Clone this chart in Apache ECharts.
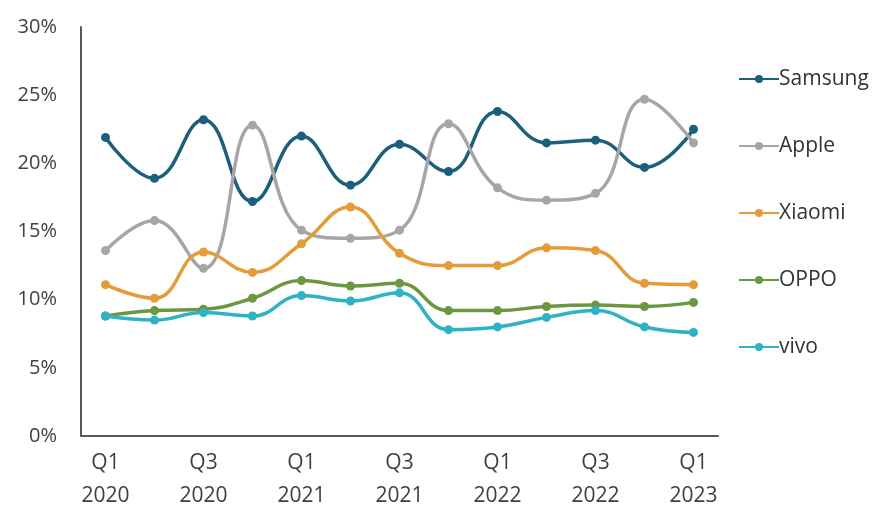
<!DOCTYPE html>
<html>
<head>
<meta charset="utf-8">
<script src="https://cdn.jsdelivr.net/npm/echarts@6/dist/echarts.min.js"></script>
<style>html,body{margin:0;padding:0;background:#fff;}#c{width:873px;height:513px;}</style>
</head>
<body>
<div id="c"></div>
<script>
const categories = ['Q1\n2020','Q2\n2020','Q3\n2020','Q4\n2020','Q1\n2021','Q2\n2021','Q3\n2021','Q4\n2021','Q1\n2022','Q2\n2022','Q3\n2022','Q4\n2022','Q1\n2023'];
const samsung = [21.9, 18.9, 23.2, 17.2, 22.0, 18.4, 21.4, 19.4, 23.8, 21.5, 21.7, 19.7, 22.5];
const apple   = [13.6, 15.8, 12.3, 22.8, 15.1, 14.5, 15.1, 22.9, 18.2, 17.3, 17.8, 24.7, 21.5];
const xiaomi  = [11.1, 10.1, 13.5, 12.0, 14.1, 16.8, 13.4, 12.5, 12.5, 13.8, 13.6, 11.2, 11.1];
const oppo    = [8.8, 9.2, 9.3, 10.1, 11.4, 11.0, 11.2, 9.2, 9.2, 9.5, 9.6, 9.5, 9.8];
const vivo    = [8.8, 8.5, 9.05, 8.8, 10.3, 9.9, 10.5, 7.8, 8.0, 8.7, 9.2, 8.0, 7.6];
const yTicks = [0, 5, 10, 15, 20, 25, 30];

const names = ['Samsung','Apple','Xiaomi','OPPO','vivo'];
const datas = [samsung, apple, xiaomi, oppo, vivo];
const colors = ['#1B5F7C','#A6A6A6','#E59C38','#6B9740','#2DB3C4'];
const FONT = 'Open Sans';

const chart = echarts.init(document.getElementById('c'));
chart.setOption({
  animation: false,
  color: colors,
  grid: { left: 81, right: 155, top: 27, bottom: 76 },
  legend: {
    orient: 'vertical',
    left: 733,
    top: 63,
    itemWidth: 40,
    itemHeight: 10,
    itemGap: 45,
    textStyle: { fontFamily: FONT, fontSize: 21, color: '#333', lineHeight: 22, padding: [0,0,0,-5] },
    data: names
  },
  xAxis: {
    type: 'category',
    data: categories,
    boundaryGap: true,
    axisLine: { lineStyle: { color: '#595959', width: 2 } },
    axisTick: { show: false },
    axisLabel: { interval: 1, fontFamily: FONT, fontSize: 21, color: '#404040', lineHeight: 33, margin: 11 }
  },
  yAxis: {
    type: 'value',
    min: yTicks[0],
    max: yTicks[yTicks.length - 1],
    interval: 5,
    axisLine: { show: true, lineStyle: { color: '#595959', width: 2 } },
    axisTick: { show: false },
    splitLine: { show: false },
    axisLabel: { formatter: '{value}%', fontFamily: FONT, fontSize: 20, color: '#404040', margin: 24 }
  },
  series: names.map((n, i) => ({
    name: n,
    type: 'line',
    data: datas[i],
    smooth: 0.45,
    symbol: 'circle',
    symbolSize: 9,
    lineStyle: { width: 3.5, color: colors[i] },
    itemStyle: { color: colors[i] }
  }))
});
</script>
</body>
</html>
